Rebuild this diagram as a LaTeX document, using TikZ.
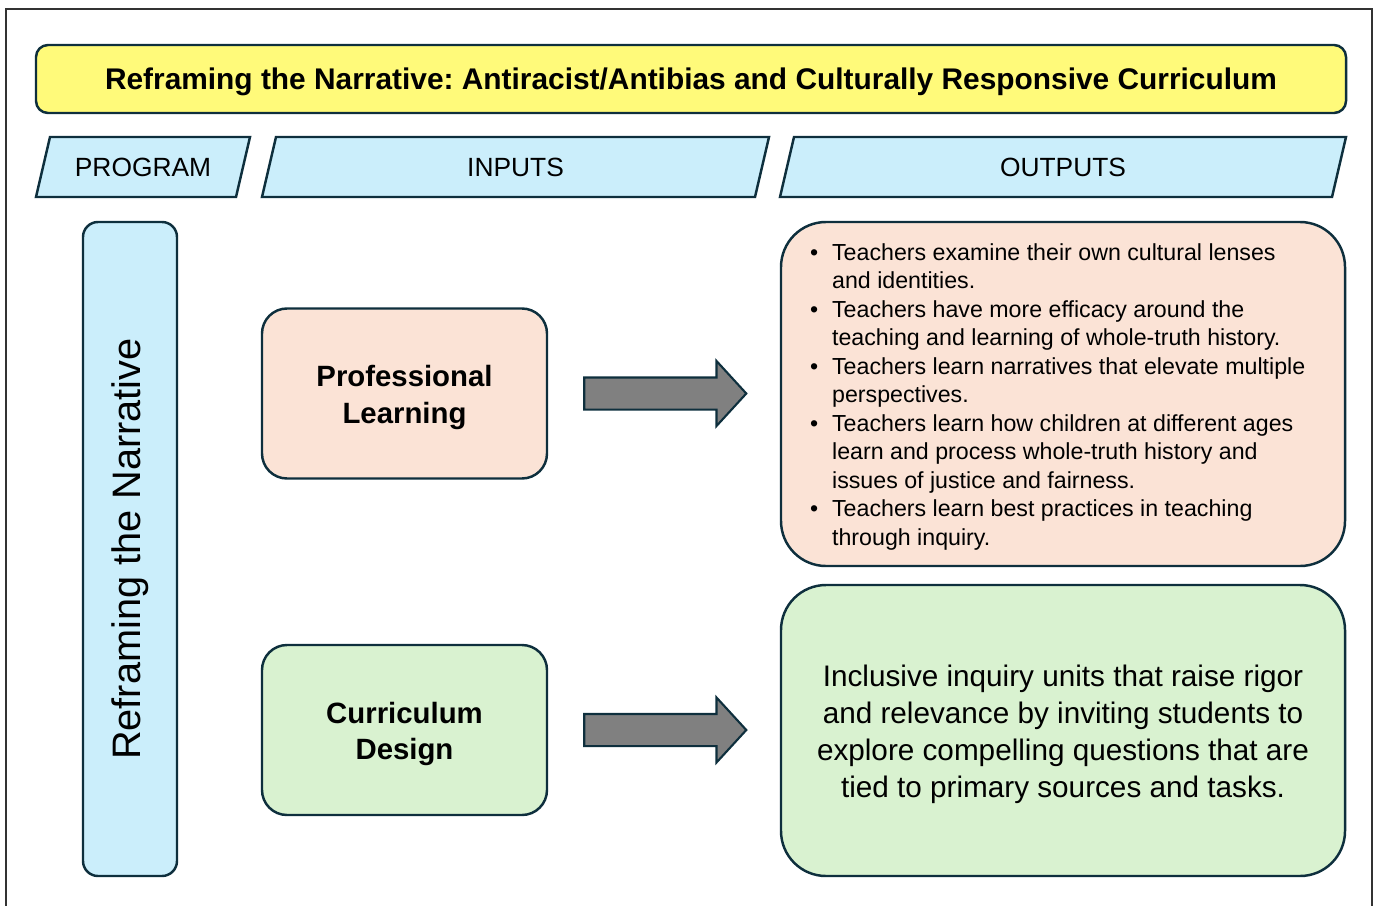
\documentclass[tikz,border=0pt]{standalone}
\usepackage{fontspec}
\setmainfont{Liberation Sans}
\frenchspacing
\usetikzlibrary{positioning,shapes.arrows}
\definecolor{navy}{HTML}{0E2F3D}
\definecolor{banneryel}{HTML}{FFFA7A}
\definecolor{hdrblue}{HTML}{CBEEFB}
\definecolor{peach}{HTML}{FBE3D6}
\definecolor{mint}{HTML}{D9F2D0}
\definecolor{arrgray}{HTML}{808080}
\tikzset{box/.style={draw=navy,line width=1.4pt,align=center},banner/.style={box,rounded corners=0.24cm,fill=banneryel,minimum width=26.2cm,minimum height=1.36cm,text height=15.5pt,text depth=3.6pt,font=\bfseries\fontsize{17}{20}\selectfont},hdrshape/.style={draw=navy,line width=1.4pt,fill=hdrblue},header/.style={font=\fontsize{15}{18}\selectfont},inbox/.style={box,rounded corners=0.5cm,minimum width=5.7cm,minimum height=3.4cm},intext/.style={align=center,font=\bfseries\fontsize{16.7}{21}\selectfont},outbox/.style={box,rounded corners=0.9cm,minimum width=11.28cm},bigarrow/.style={draw=navy,line width=1.2pt,fill=arrgray,single arrow,single arrow head extend=0.33cm,single arrow tip angle=95,minimum height=3.24cm,minimum width=1.26cm,inner xsep=0pt,inner ysep=0.3cm}}

\begin{document}
\begin{tikzpicture}[bullets/.style={font=\fontsize{13.2}{16.2}\selectfont},plain/.style={align=center,font=\fontsize{16.9}{21}\selectfont}]
\useasboundingbox (0,0) rectangle (27.58,-18.1);
\draw[line width=1.1pt,black!80] (0.12,-18.4) -- (0.12,-0.18) -- (27.44,-0.18) -- (27.44,-18.4);
\node[banner] (title) at (13.82,-1.58) {Reframing the Narrative: Antiracist/Antibias and Culturally Responsive Curriculum};
\foreach \nm/\xa/\xb/\txt in {hprog/0.72/5.0/PROGRAM,hin/5.24/15.38/INPUTS,hout/15.6/26.92/OUTPUTS}{
  \draw[hdrshape] (\xa,-3.94) -- (\xa+0.28,-2.74) -- (\xb,-2.74) -- (\xb-0.28,-3.94) -- cycle;
  \node[header] (\nm) at ({(\xa+\xb)/2},-3.34) {\txt};
}
\node[box,fill=hdrblue,rounded corners=0.3cm,rotate=90,minimum width=13.08cm,minimum height=1.88cm,font=\fontsize{22.6}{27}\selectfont] (prog) at (2.6,-10.98) {Reframing the Narrative};
\node[inbox,fill=peach] (learn) at (8.09,-7.87) {};
\node[intext] (learntxt) at ([yshift=-0.08cm]learn.center) {Professional\\Learning};
\node[inbox,fill=mint] (design) at (8.09,-14.6) {};
\node[intext] (designtxt) at ([yshift=-0.08cm]design.center) {Curriculum\\Design};
\node[outbox,fill=peach,minimum height=6.88cm] (learnout) at (21.26,-7.88) {};
\node[bullets,anchor=west,inner sep=0pt] (learnlist) at ([xshift=0.6cm,yshift=-0.06cm]learnout.west) {\begin{tabular}{@{}p{0.44cm}@{}l@{}}
\textbullet & Teachers examine their own cultural lenses\\
 & and identities.\\
\textbullet & Teachers have more efficacy around the\\
 & teaching and learning of whole-truth history.\\
\textbullet & Teachers learn narratives that elevate multiple\\
 & perspectives.\\
\textbullet & Teachers learn how children at different ages\\
 & learn and process whole-truth history and\\
 & issues of justice and fairness.\\
\textbullet & Teachers learn best practices in teaching\\
 & through inquiry.
\end{tabular}};
\node[outbox,fill=mint,minimum height=5.82cm] (designout) at (21.26,-14.61) {};
\node[plain] (designlist) at ([yshift=-0.08cm]designout.center) {Inclusive inquiry units that raise rigor\\and relevance by inviting students to\\explore compelling questions that are\\tied to primary sources and tasks.};
\node[bigarrow,anchor=tail] (arr1) at ([xshift=0.7cm]learn.east) {};
\node[bigarrow,anchor=tail] (arr2) at ([xshift=0.7cm]design.east) {};
\end{tikzpicture}
\end{document}
